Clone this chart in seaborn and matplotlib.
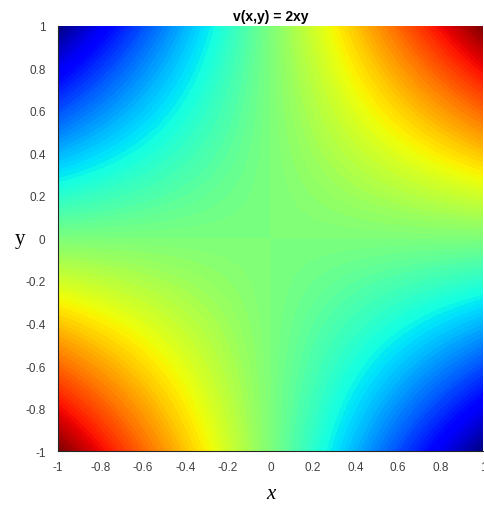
import numpy as np
import matplotlib
matplotlib.use('Agg')
import matplotlib.pyplot as plt
import seaborn as sns

# grid and function values for v(x,y) = 2xy
x_vals = np.linspace(-1, 1, 401)
y_vals = np.linspace(-1, 1, 401)
levels = np.linspace(-2, 2, 101)
tick_vals = [-1, -0.8, -0.6, -0.4, -0.2, 0, 0.2, 0.4, 0.6, 0.8, 1]
tick_labels = ['-1', '-0.8', '-0.6', '-0.4', '-0.2', '0', '0.2', '0.4', '0.6', '0.8', '1']

sns.set_style('white')
plt.rcParams['font.family'] = ['Liberation Sans', 'DejaVu Sans']

X, Y = np.meshgrid(x_vals, y_vals)
V = 2 * X * Y

fig = plt.figure(figsize=(4.85, 5.06), dpi=100)
ax = fig.add_axes([0.1196, 0.1067, 0.8764, 0.84])
ax.contourf(X, Y, V, levels=levels, cmap='jet', antialiased=False)

ax.set_xlim(-1, 1)
ax.set_ylim(-1, 1)
ax.set_xticks(tick_vals)
ax.set_xticklabels(tick_labels)
ax.set_yticks(tick_vals)
ax.set_yticklabels(tick_labels)
ax.tick_params(labelsize=8.5, colors='#404040', length=0)
ax.tick_params(axis='x', pad=7)
ax.tick_params(axis='y', pad=9)

for side in ['top', 'right']:
    ax.spines[side].set_visible(False)
for side in ['left', 'bottom']:
    ax.spines[side].set_color('#262626')
    ax.spines[side].set_linewidth(0.8)

ax.set_title('v(x,y) = 2xy', fontsize=10, fontweight='bold', pad=4, color='black')
ax.set_xlabel('x', fontsize=15, family='Liberation Serif', style='italic', labelpad=8, color='black')
ax.set_ylabel('y', fontsize=15, family='Liberation Serif', rotation=0, labelpad=4, va='center', color='black')

fig.savefig('out.png', dpi=100)
